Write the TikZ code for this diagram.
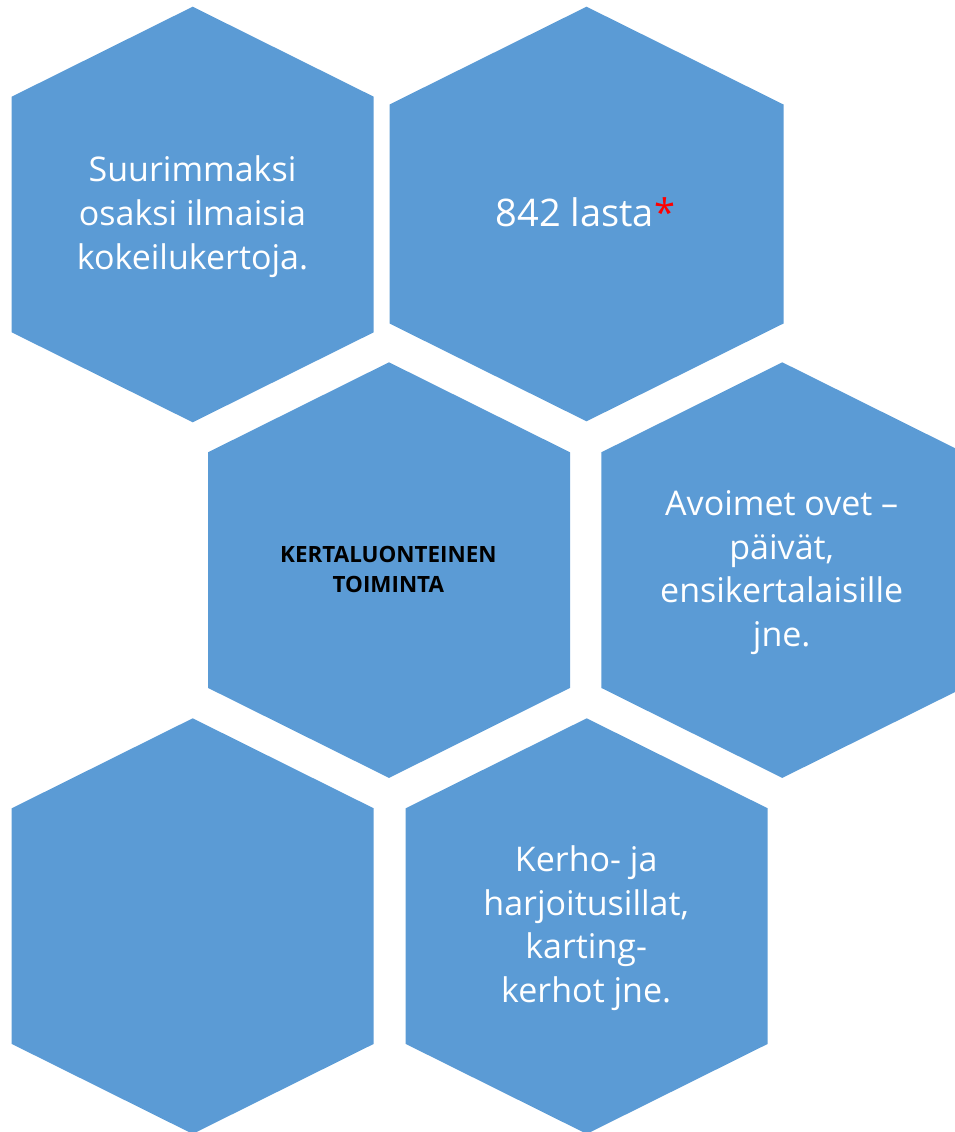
\documentclass[tikz,border=0pt]{standalone}
\usepackage{fontspec}
\setmainfont{Open Sans}
\definecolor{cellblue}{HTML}{5B9BD5}
% one pointy-top cell: centre x, top y, half width, rise, side
\newcommand{\hexcell}[5]{%
  \fill[cellblue] (#1,#2) -- ++(#3,#4) -- ++(0,#5) -- ++(-#3,#4) -- ++(-#3,-#4) -- ++(0,-#5) -- cycle;}

\begin{document}
\begin{tikzpicture}[x=1pt,y=-1pt,
    celltext/.style={text=white,align=center,inner sep=0pt,font=\fontsize{34}{43.7}\selectfont}]
        \useasboundingbox (0,0) rectangle (955,1132);
        \clip (0,0) rectangle (955,1132);

        % Cells
        \hexcell{192.7}{6.7}{181}{90}{235.6}
        \hexcell{586.5}{6.7}{197}{97.8}{219}
        \hexcell{389}{362.3}{181}{90}{235.6}
        \hexcell{782.3}{362.3}{181}{90}{235.6}
        \hexcell{192.7}{718.3}{181}{90}{235.6}
        \hexcell{586.7}{718.3}{181}{90}{235.6}

        % Labels
        \node[celltext] (kokeilu) at (192.5,216.7) {Suurimmaksi\\osaksi ilmaisia\\kokeilukertoja.};
        \node[celltext,font=\fontsize{38}{48}\selectfont] (lapset) at (585.3,212.3) {842 lasta\textcolor{red}{*}};
        \node[inner sep=0pt,align=center,font=\bfseries\fontsize{22.4}{29.7}\selectfont] (kertaluonteinen) at (388.4,569.5) {KERTALUONTEINEN\\TOIMINTA};
        \node[celltext] (avoimet) at (781.7,572.5) {Avoimet ovet –\\päivät,\\ensikertalaisille\\jne.};
        \node[celltext] (kerho) at (586.2,928.3) {Kerho- ja\\harjoitusillat,\\karting-\\kerhot jne.};
      \end{tikzpicture}
\end{document}
